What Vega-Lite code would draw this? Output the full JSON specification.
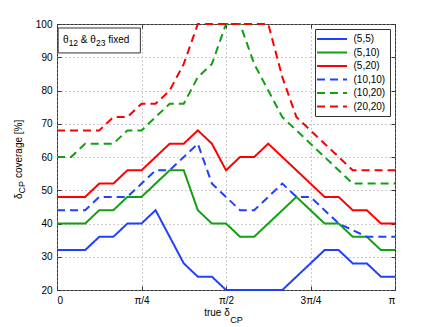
{
  "$schema": "https://vega.github.io/schema/vega-lite/v6.json",
  "width": 338,
  "height": 266,
  "autosize": {"type": "none"},
  "padding": {"left": 57, "top": 24, "right": 41, "bottom": 37},
  "config": {
    "font": "Liberation Sans",
    "view": {"stroke": "#333333", "strokeWidth": 1},
    "axis": {
      "labelFont": "Liberation Sans",
      "labelFontSize": 10,
      "labelColor": "#000000",
      "domain": false,
      "tickColor": "#333333",
      "gridColor": "#999999",
      "gridDash": [1, 3],
      "gridWidth": 1,
      "title": null
    },
    "legend": {
      "orient": "top-right",
      "offset": 5,
      "strokeColor": "#333333",
      "fillColor": "#ffffff",
      "padding": 4,
      "labelFont": "Liberation Sans",
      "labelFontSize": 10,
      "labelColor": "#000000",
      "symbolType": "M-3,0H3",
      "symbolSize": 100,
      "symbolStrokeWidth": 2,
      "symbolOffset": 7,
      "rowPadding": 2.5,
      "labelOffset": 15.5
    },
    "text": {"font": "Liberation Sans", "color": "#000000", "baseline": "alphabetic", "align": "left"}
  },
  "layer": [
    {
      "data": {"values": [
        {"d":0,"p":"(5,5)","v":32},{"d":7.5,"p":"(5,5)","v":32},{"d":15,"p":"(5,5)","v":32},{"d":22.5,"p":"(5,5)","v":36},{"d":30,"p":"(5,5)","v":36},{"d":37.5,"p":"(5,5)","v":40},{"d":45,"p":"(5,5)","v":40},{"d":52.5,"p":"(5,5)","v":44},{"d":60,"p":"(5,5)","v":36},{"d":67.5,"p":"(5,5)","v":28},{"d":75,"p":"(5,5)","v":24},{"d":82.5,"p":"(5,5)","v":24},{"d":90,"p":"(5,5)","v":20},{"d":97.5,"p":"(5,5)","v":20},{"d":105,"p":"(5,5)","v":20},{"d":112.5,"p":"(5,5)","v":20},{"d":120,"p":"(5,5)","v":20},{"d":127.5,"p":"(5,5)","v":24},{"d":135,"p":"(5,5)","v":28},{"d":142.5,"p":"(5,5)","v":32},{"d":150,"p":"(5,5)","v":32},{"d":157.5,"p":"(5,5)","v":28},{"d":165,"p":"(5,5)","v":28},{"d":172.5,"p":"(5,5)","v":24},{"d":180,"p":"(5,5)","v":24},
        {"d":0,"p":"(5,10)","v":40},{"d":7.5,"p":"(5,10)","v":40},{"d":15,"p":"(5,10)","v":40},{"d":22.5,"p":"(5,10)","v":44},{"d":30,"p":"(5,10)","v":44},{"d":37.5,"p":"(5,10)","v":48},{"d":45,"p":"(5,10)","v":48},{"d":52.5,"p":"(5,10)","v":52},{"d":60,"p":"(5,10)","v":56},{"d":67.5,"p":"(5,10)","v":56},{"d":75,"p":"(5,10)","v":44},{"d":82.5,"p":"(5,10)","v":40},{"d":90,"p":"(5,10)","v":40},{"d":97.5,"p":"(5,10)","v":36},{"d":105,"p":"(5,10)","v":36},{"d":112.5,"p":"(5,10)","v":40},{"d":120,"p":"(5,10)","v":44},{"d":127.5,"p":"(5,10)","v":48},{"d":135,"p":"(5,10)","v":44},{"d":142.5,"p":"(5,10)","v":40},{"d":150,"p":"(5,10)","v":40},{"d":157.5,"p":"(5,10)","v":36},{"d":165,"p":"(5,10)","v":36},{"d":172.5,"p":"(5,10)","v":32},{"d":180,"p":"(5,10)","v":32},
        {"d":0,"p":"(5,20)","v":48},{"d":7.5,"p":"(5,20)","v":48},{"d":15,"p":"(5,20)","v":48},{"d":22.5,"p":"(5,20)","v":52},{"d":30,"p":"(5,20)","v":52},{"d":37.5,"p":"(5,20)","v":56},{"d":45,"p":"(5,20)","v":56},{"d":52.5,"p":"(5,20)","v":60},{"d":60,"p":"(5,20)","v":64},{"d":67.5,"p":"(5,20)","v":64},{"d":75,"p":"(5,20)","v":68},{"d":82.5,"p":"(5,20)","v":64},{"d":90,"p":"(5,20)","v":56},{"d":97.5,"p":"(5,20)","v":60},{"d":105,"p":"(5,20)","v":60},{"d":112.5,"p":"(5,20)","v":64},{"d":120,"p":"(5,20)","v":60},{"d":127.5,"p":"(5,20)","v":56},{"d":135,"p":"(5,20)","v":52},{"d":142.5,"p":"(5,20)","v":48},{"d":150,"p":"(5,20)","v":48},{"d":157.5,"p":"(5,20)","v":44},{"d":165,"p":"(5,20)","v":44},{"d":172.5,"p":"(5,20)","v":40},{"d":180,"p":"(5,20)","v":40},
        {"d":0,"p":"(10,10)","v":44},{"d":7.5,"p":"(10,10)","v":44},{"d":15,"p":"(10,10)","v":44},{"d":22.5,"p":"(10,10)","v":48},{"d":30,"p":"(10,10)","v":48},{"d":37.5,"p":"(10,10)","v":48},{"d":45,"p":"(10,10)","v":52},{"d":52.5,"p":"(10,10)","v":56},{"d":60,"p":"(10,10)","v":56},{"d":67.5,"p":"(10,10)","v":60},{"d":75,"p":"(10,10)","v":64},{"d":82.5,"p":"(10,10)","v":52},{"d":90,"p":"(10,10)","v":48},{"d":97.5,"p":"(10,10)","v":44},{"d":105,"p":"(10,10)","v":44},{"d":112.5,"p":"(10,10)","v":48},{"d":120,"p":"(10,10)","v":52},{"d":127.5,"p":"(10,10)","v":48},{"d":135,"p":"(10,10)","v":48},{"d":142.5,"p":"(10,10)","v":44},{"d":150,"p":"(10,10)","v":40},{"d":157.5,"p":"(10,10)","v":38},{"d":165,"p":"(10,10)","v":36},{"d":172.5,"p":"(10,10)","v":36},{"d":180,"p":"(10,10)","v":36},
        {"d":0,"p":"(10,20)","v":60},{"d":7.5,"p":"(10,20)","v":60},{"d":15,"p":"(10,20)","v":64},{"d":22.5,"p":"(10,20)","v":64},{"d":30,"p":"(10,20)","v":64},{"d":37.5,"p":"(10,20)","v":68},{"d":45,"p":"(10,20)","v":68},{"d":52.5,"p":"(10,20)","v":72},{"d":60,"p":"(10,20)","v":76},{"d":67.5,"p":"(10,20)","v":76},{"d":75,"p":"(10,20)","v":84},{"d":82.5,"p":"(10,20)","v":88},{"d":90,"p":"(10,20)","v":100},{"d":97.5,"p":"(10,20)","v":100},{"d":105,"p":"(10,20)","v":88},{"d":112.5,"p":"(10,20)","v":80},{"d":120,"p":"(10,20)","v":72},{"d":127.5,"p":"(10,20)","v":68},{"d":135,"p":"(10,20)","v":64},{"d":142.5,"p":"(10,20)","v":60},{"d":150,"p":"(10,20)","v":56},{"d":157.5,"p":"(10,20)","v":52},{"d":165,"p":"(10,20)","v":52},{"d":172.5,"p":"(10,20)","v":52},{"d":180,"p":"(10,20)","v":52},
        {"d":0,"p":"(20,20)","v":68},{"d":7.5,"p":"(20,20)","v":68},{"d":15,"p":"(20,20)","v":68},{"d":22.5,"p":"(20,20)","v":68},{"d":30,"p":"(20,20)","v":72},{"d":37.5,"p":"(20,20)","v":72},{"d":45,"p":"(20,20)","v":76},{"d":52.5,"p":"(20,20)","v":76},{"d":60,"p":"(20,20)","v":80},{"d":67.5,"p":"(20,20)","v":88},{"d":75,"p":"(20,20)","v":100},{"d":82.5,"p":"(20,20)","v":100},{"d":90,"p":"(20,20)","v":100},{"d":97.5,"p":"(20,20)","v":100},{"d":105,"p":"(20,20)","v":100},{"d":112.5,"p":"(20,20)","v":100},{"d":120,"p":"(20,20)","v":84},{"d":127.5,"p":"(20,20)","v":72},{"d":135,"p":"(20,20)","v":68},{"d":142.5,"p":"(20,20)","v":64},{"d":150,"p":"(20,20)","v":60},{"d":157.5,"p":"(20,20)","v":56},{"d":165,"p":"(20,20)","v":56},{"d":172.5,"p":"(20,20)","v":56},{"d":180,"p":"(20,20)","v":56}
      ]},
      "mark": {"type": "line", "strokeWidth": 2, "clip": false},
      "encoding": {
        "x": {"field": "d", "type": "quantitative",
          "scale": {"domain": [0, 180], "nice": false, "zero": false},
          "axis": {"orient": "bottom", "values": [0, 45, 90, 135, 180], "grid": true, "tickSize": -4, "labelPadding": 9,
            "labelExpr": "datum.value == 0 ? '0' : datum.value == 45 ? 'π/4' : datum.value == 90 ? 'π/2' : datum.value == 135 ? '3π/4' : 'π'"}},
        "y": {"field": "v", "type": "quantitative",
          "scale": {"domain": [20, 100], "nice": false, "zero": false},
          "axis": {"orient": "left", "values": [20, 30, 40, 50, 60, 70, 80, 90, 100], "grid": true, "tickSize": -4, "labelPadding": 9}},
        "color": {"field": "p", "type": "nominal", "title": null,
          "scale": {"domain": ["(5,5)", "(5,10)", "(5,20)", "(10,10)", "(10,20)", "(20,20)"],
                    "range": ["#2040ff", "#10a010", "#ff0000", "#2040ff", "#10a010", "#ff0000"]}},
        "strokeDash": {"field": "p", "type": "nominal", "title": null,
          "scale": {"domain": ["(5,5)", "(5,10)", "(5,20)", "(10,10)", "(10,20)", "(20,20)"],
                    "range": [[1, 0], [1, 0], [1, 0], [8, 5], [8, 5], [8, 5]]}}
      }
    },
    {
      "data": {"values": [{}]},
      "mark": {"type": "rect", "fill": "#ffffff", "stroke": "#333333", "strokeWidth": 1},
      "encoding": {
        "x": {"datum": 0.6, "type": "quantitative",
          "axis": {"orient": "top", "values": [0, 45, 90, 135, 180], "labels": false, "grid": false, "tickSize": -4}},
        "x2": {"datum": 44.4},
        "y": {"datum": 98.8, "type": "quantitative",
          "axis": {"orient": "right", "values": [20, 30, 40, 50, 60, 70, 80, 90, 100], "labels": false, "grid": false, "tickSize": -4}},
        "y2": {"datum": 91.3}
      }
    },
    {
      "data": {"values": [{}]},
      "mark": {"type": "text", "text": "θ", "fontSize": 10},
      "encoding": {"x": {"datum": 3.2, "type": "quantitative", "axis": null}, "y": {"datum": 94.4, "type": "quantitative", "axis": null}}
    },
    {
      "data": {"values": [{}]},
      "mark": {"type": "text", "text": "12", "fontSize": 8.5},
      "encoding": {"x": {"datum": 6.2, "type": "quantitative", "axis": null}, "y": {"datum": 93.5, "type": "quantitative", "axis": null}}
    },
    {
      "data": {"values": [{}]},
      "mark": {"type": "text", "text": "& θ", "fontSize": 10},
      "encoding": {"x": {"datum": 12.7, "type": "quantitative", "axis": null}, "y": {"datum": 94.4, "type": "quantitative", "axis": null}}
    },
    {
      "data": {"values": [{}]},
      "mark": {"type": "text", "text": "23", "fontSize": 8.5},
      "encoding": {"x": {"datum": 20.8, "type": "quantitative", "axis": null}, "y": {"datum": 93.5, "type": "quantitative", "axis": null}}
    },
    {
      "data": {"values": [{}]},
      "mark": {"type": "text", "text": "fixed", "fontSize": 10},
      "encoding": {"x": {"datum": 27.3, "type": "quantitative", "axis": null}, "y": {"datum": 94.4, "type": "quantitative", "axis": null}}
    },
    {
      "data": {"values": [{}]},
      "mark": {"type": "text", "text": "true δ", "fontSize": 10, "align": "right"},
      "encoding": {"x": {"datum": 92.0, "type": "quantitative", "axis": null}, "y": {"datum": 12.1, "type": "quantitative", "axis": null}}
    },
    {
      "data": {"values": [{}]},
      "mark": {"type": "text", "text": "CP", "fontSize": 9},
      "encoding": {"x": {"datum": 92.3, "type": "quantitative", "axis": null}, "y": {"datum": 10.0, "type": "quantitative", "axis": null}}
    },
    {
      "data": {"values": [{}]},
      "mark": {"type": "text", "text": "δ", "fontSize": 10, "angle": 270},
      "encoding": {"x": {"datum": -18.6, "type": "quantitative", "axis": null}, "y": {"datum": 47.4, "type": "quantitative", "axis": null}}
    },
    {
      "data": {"values": [{}]},
      "mark": {"type": "text", "text": "CP", "fontSize": 9, "angle": 270},
      "encoding": {"x": {"datum": -17.0, "type": "quantitative", "axis": null}, "y": {"datum": 49.05, "type": "quantitative", "axis": null}}
    },
    {
      "data": {"values": [{}]},
      "mark": {"type": "text", "text": "coverage [%]", "fontSize": 10, "angle": 270},
      "encoding": {"x": {"datum": -18.6, "type": "quantitative", "axis": null}, "y": {"datum": 53.65, "type": "quantitative", "axis": null}}
    }
  ],
  "resolve": {"axis": {"x": "independent", "y": "independent"}}
}
